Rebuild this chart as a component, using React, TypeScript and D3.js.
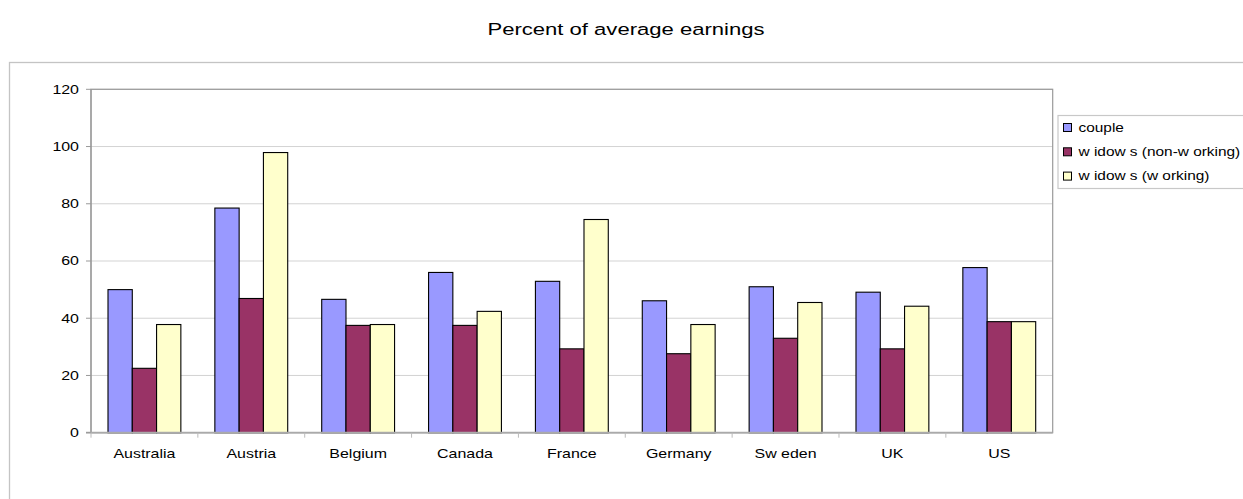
import React from "react";
import * as d3 from "d3";

const categories = ["Australia", "Austria", "Belgium", "Canada", "France", "Germany", "Sw eden", "UK", "US"];
const seriesNames = ["couple", "w idow s (non-w orking)", "w idow s (w orking)"];
const couple = [50.0, 78.5, 46.6, 56.0, 52.9, 46.1, 51.0, 49.1, 57.7];
const widowsNonWorking = [22.5, 46.9, 37.5, 37.5, 29.3, 27.6, 33.0, 29.3, 38.8];
const widowsWorking = [37.8, 97.9, 37.8, 42.4, 74.5, 37.8, 45.5, 44.2, 38.8];
const yTicks = [0, 20, 40, 60, 80, 100, 120];
const colors = ["#9999FF", "#993366", "#FFFFCC"];
const title = "Percent of average earnings";

const W = 1243;
const H = 499;
const plot = { left: 91, top: 89.3, right: 1052.7, bottom: 432.7 };
const FONT = "'Liberation Sans', Arial, sans-serif";

function SText(props: { x: number; y: number; size: number; anchor?: string; sx?: number; children: React.ReactNode }) {
  const { x, y, size, anchor = "start", sx = 1.33, children } = props;
  return (
    <text
      transform={`translate(${x},${y}) scale(${sx},1)`}
      fontFamily={FONT}
      fontSize={size}
      textAnchor={anchor}
      fill="#000"
    >
      {children}
    </text>
  );
}

export default function App() {
  const series = [couple, widowsNonWorking, widowsWorking];
  const x = d3.scaleBand<string>().domain(categories).range([plot.left, plot.right]).padding(0);
  const bw = x.bandwidth();
  const barW = bw / 4.4;
  const x1 = d3
    .scaleBand<number>()
    .domain([0, 1, 2])
    .range([(bw - 3 * barW) / 2, (bw + 3 * barW) / 2])
    .padding(0);
  const y = d3.scaleLinear().domain([0, 120]).range([plot.bottom, plot.top]);

  return (
    <svg width={W} height={H} style={{ position: "absolute", left: 0, top: 0, background: "#fff" }}>
      <rect x={0} y={0} width={W} height={H} fill="#fff" />
      {/* outer chart frame */}
      <rect x={9.5} y={62.5} width={W + 20} height={H + 20} fill="none" stroke="#c4c4c4" strokeWidth={1.3} />
      {/* title */}
      <SText x={626} y={35} size={16.6} anchor="middle">{title}</SText>

      {/* gridlines */}
      {yTicks.map((t) => (
        <line key={"g" + t} x1={plot.left} x2={plot.right} y1={y(t)} y2={y(t)} stroke="#d3d3d3" strokeWidth={1} />
      ))}
      {/* plot border */}
      <rect
        x={plot.left}
        y={plot.top}
        width={plot.right - plot.left}
        height={plot.bottom - plot.top}
        fill="none"
        stroke="#999"
        strokeWidth={1.2}
      />

      {/* bars */}
      {categories.map((c, i) => (
        <g key={c}>
          {series.map((s, k) => (
            <rect
              key={k}
              x={(x(c) as number) + (x1(k) as number)}
              y={y(s[i])}
              width={x1.bandwidth()}
              height={y(0) - y(s[i])}
              fill={colors[k]}
              stroke="#000"
              strokeWidth={1.1}
            />
          ))}
        </g>
      ))}

      {/* axes */}
      <line x1={plot.left} x2={plot.left} y1={plot.top} y2={plot.bottom} stroke="#999" strokeWidth={1.2} />
      <line x1={plot.left - 5} x2={plot.right} y1={plot.bottom} y2={plot.bottom} stroke="#aaa" strokeWidth={1.8} />
      {yTicks.map((t) => (
        <g key={"t" + t}>
          <line x1={plot.left - 5} x2={plot.left} y1={y(t)} y2={y(t)} stroke="#999" strokeWidth={1} />
          <SText x={79} y={y(t) + 4.3} size={12} anchor="end">{t}</SText>
        </g>
      ))}
      {categories.map((c) => (
        <line
          key={"xt" + c}
          x1={x(c) as number}
          x2={x(c) as number}
          y1={plot.bottom}
          y2={plot.bottom + 5}
          stroke="#bbb"
          strokeWidth={1}
        />
      ))}
      {categories.map((c) => (
        <SText key={"xl" + c} x={(x(c) as number) + bw / 2} y={458} size={12} anchor="middle">{c}</SText>
      ))}

      {/* legend */}
      <rect x={1058} y={115.5} width={W} height={73} fill="#fff" stroke="#c8c8c8" strokeWidth={1.2} />
      {seriesNames.map((n, k) => {
        const cy = 127.5 + k * 24.3;
        return (
          <g key={n}>
            <rect x={1063.5} y={cy - 4} width={8} height={8} fill={colors[k]} stroke="#000" strokeWidth={1} />
            <SText x={1078.5} y={cy + 4.3} size={12} sx={1.285}>{n}</SText>
          </g>
        );
      })}
    </svg>
  );
}
